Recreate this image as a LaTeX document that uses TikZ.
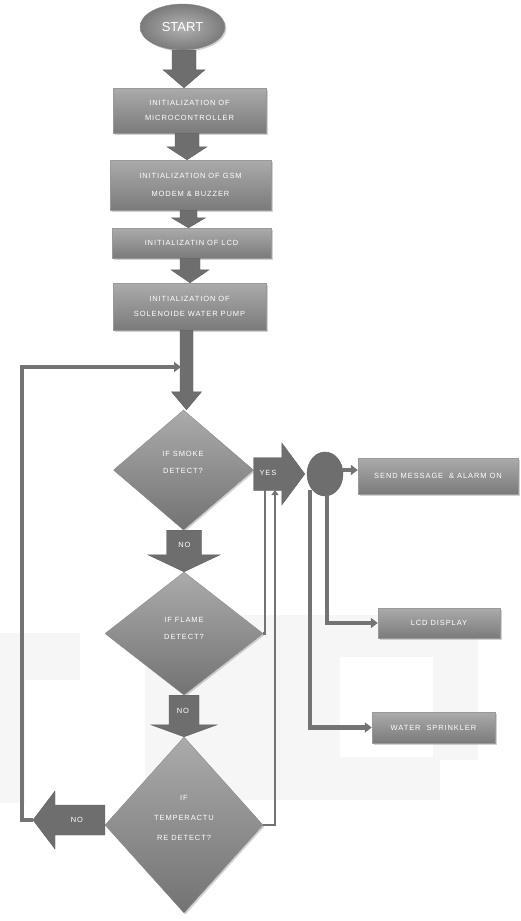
\documentclass[tikz,border=0pt]{standalone}
\usepackage{fontspec}
\setmainfont{Liberation Sans}
\newfontfamily\lsfont[LetterSpace=12]{Liberation Sans}
\usetikzlibrary{shapes.geometric,shadows,arrows.meta,calc}
\tikzset{
 box/.style={rectangle, draw=black!40, top color=black!33, bottom color=black!52,
   drop shadow={opacity=0.35, shadow xshift=1.5pt, shadow yshift=-1.5pt},
   text=white, font=\lsfont\fontsize{7.5}{15}\selectfont, align=center, inner sep=0pt},
 dec/.style={diamond, draw=black!45, top color=black!33, bottom color=black!55,
   drop shadow={opacity=0.35, shadow xshift=1.5pt, shadow yshift=-1.5pt},
   inner sep=0pt},
 dtext/.style={text=white, align=center, font=\lsfont\fontsize{7.5}{17}\selectfont},
 blk/.style={fill=black!57, draw=black!62},
 lbl/.style={text=white, font=\lsfont\fontsize{7.5}{8}\selectfont},
 pipe/.style={draw=black!55, line width=4.5pt},
 bpipe/.style={draw=black!55, line width=2.2pt},
 tip/.style={-{Triangle[length=7pt,width=10pt]}},
 stip/.style={-{Triangle[length=5pt,width=7pt]}},
 wm/.style={fill=black!3.5},
}
% block arrow pointing down: from, to (tip), shaft half, head half, head length
\newcommand\blkdown[5]{\filldraw[blk] let \p1=(#1), \p2=(#2) in
 ({\x2-#3},\y1) -- ({\x2+#3},\y1) -- ({\x2+#3},{\y2+#5}) -- ({\x2+#4},{\y2+#5}) --
 (\x2,\y2) -- ({\x2-#4},{\y2+#5}) -- ({\x2-#3},{\y2+#5}) -- cycle;}
\newcommand\blkright[5]{\filldraw[blk] let \p1=(#1), \p2=(#2) in
 (\x1,{\y2+#3}) -- (\x1,{\y2-#3}) -- ({\x2-#5},{\y2-#3}) -- ({\x2-#5},{\y2-#4}) --
 (\x2,\y2) -- ({\x2-#5},{\y2+#4}) -- ({\x2-#5},{\y2+#3}) -- cycle;}
\newcommand\blkleft[5]{\filldraw[blk] let \p1=(#1), \p2=(#2) in
 (\x1,{\y2+#3}) -- (\x1,{\y2-#3}) -- ({\x2+#5},{\y2-#3}) -- ({\x2+#5},{\y2-#4}) --
 (\x2,\y2) -- ({\x2+#5},{\y2+#4}) -- ({\x2+#5},{\y2+#3}) -- cycle;}
\begin{document}
\begin{tikzpicture}[x=1pt,y=-1pt]
\useasboundingbox (0,0) rectangle (520,921);
\fill[white] (0,0) rectangle (520,921);

% faint watermark
\fill[wm] (0,633) rectangle (80,680);
\fill[wm] (0,680) rectangle (25,803);
\fill[wm] (145,615) rectangle (290,800);
\fill[wm] (290,615) rectangle (478,657);
\fill[wm] (290,657) rectangle (340,800);
\fill[wm] (433,657) rectangle (478,760);
\fill[wm] (340,757) rectangle (440,800);

% nodes
\node[ellipse, draw=black!45, inner color=black!30, outer color=black!52,
  drop shadow={opacity=0.35, shadow xshift=1.5pt, shadow yshift=-1.5pt},
  minimum width=85pt, minimum height=46pt, text=white, font=\fontsize{13}{14}\selectfont]
  (start) at (182.5,27) {START};
\node[box, minimum width=153pt, minimum height=45pt] (b1) at (189.5,110.5)
  {INITIALIZATION OF\\MICROCONTROLLER};
\node[box, minimum width=161pt, minimum height=50pt, font=\lsfont\fontsize{7.5}{18}\selectfont] (b2) at (190.5,185)
  {INITIALIZATION OF GSM\\MODEM \& BUZZER};
\node[box, minimum width=159pt, minimum height=30pt] (b3) at (191.5,243)
  {INITIALIZATIN OF LCD};
\node[box, minimum width=153pt, minimum height=47pt] (b4) at (189.5,306.5)
  {INITIALIZATION OF\\SOLENOIDE WATER PUMP};
\node[dec, minimum width=140pt, minimum height=120pt] (d1) at (183.5,470) {};
\node[dec, minimum width=158pt, minimum height=123pt] (d2) at (184,633.5) {};
\node[dec, minimum width=158pt, minimum height=176pt] (d3) at (184,825) {};
\node[dtext] (t1) at (183,462) {IF SMOKE\\DETECT?};
\node[dtext] (t2) at (184,628) {IF FLAME\\DETECT?};
\node[dtext, font=\lsfont\fontsize{7.5}{20}\selectfont] (t3) at (184,818)
  {IF\\TEMPERACTU\\RE DETECT?};
\node[ellipse, fill=black!57, draw=black!62, minimum width=36pt, minimum height=44pt,
  inner sep=0pt] (hub) at (325,474) {};
\node[box, minimum width=160pt, minimum height=36pt] (send) at (438,476)
  {SEND MESSAGE \ \& ALARM ON};
\node[box, minimum width=122pt, minimum height=30pt] (lcd) at (439,623)
  {LCD DISPLAY};
\node[box, minimum width=123pt, minimum height=31pt] (spr) at (433.5,727.5)
  {WATER \ SPRINKLER};

% block arrows
\blkdown{start.south}{$(b1.north)+(-5.5,0)$}{12pt}{21pt}{18pt}
\blkdown{b1.south}{$(b2.north)+(-3.5,0)$}{12pt}{20pt}{13pt}
\blkdown{b2.south}{$(b3.north)+(-3,0)$}{8.5pt}{17pt}{10pt}
\blkdown{b3.south}{$(b4.north)+(0.5,0)$}{10pt}{19pt}{13pt}
\blkdown{b4.south}{$(d1.north)+(3,0)$}{6.5pt}{15pt}{18pt}
\blkdown{d1.south}{d2.north}{17.5pt}{36pt}{17pt}
\blkdown{d2.south}{d3.north}{15pt}{33pt}{12pt}
\blkright{d1.east}{$(hub.west)+(-2,0)$}{16.5pt}{31pt}{23pt}
\coordinate (notip) at (33,820);
\blkleft{d3.west}{notip}{15pt}{29pt}{22pt}

% labels
\node[lbl] (yes) at (268,473) {YES};
\node[lbl] (no1) at (184.5,545) {NO};
\node[lbl] (no2) at (183,711) {NO};
\node[lbl] (no3) at (77,820) {NO};

% loop back
\coordinate (lpA) at (22,820);
\coordinate (lpB) at (22,367);
\coordinate (lpC) at (181,367);
\draw[pipe, tip] (notip) -- (lpA) -- (lpB) -- (lpC);

% return lines to YES
\coordinate (yesA) at (265,490);
\coordinate (yesB) at (275,490);
\draw[bpipe] (d2.east) -| (yesA);
\draw[bpipe, stip] (d3.east) -| (yesB);

% outputs
\draw[pipe, tip] (hub.east |- 0,470) -- (send.west |- 0,470);
\draw[pipe, tip] ($(hub.south)+(2,-2)$) |- (lcd.west);
\draw[pipe, tip] ($(hub.south)+(-15,-6)$) |- (spr.west);
\end{tikzpicture}
\end{document}
